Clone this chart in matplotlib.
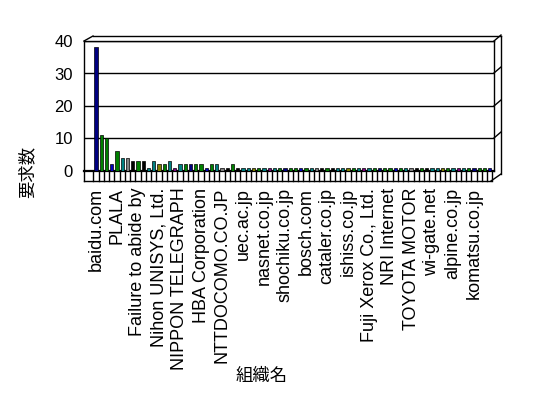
import matplotlib.pyplot as plt
from matplotlib.lines import Line2D
from matplotlib.transforms import blended_transform_factory

# data (76 organisations, every 4th labelled)
values = [38, 11, 10, 2, 6, 4, 4, 3, 3, 3, 1, 3, 2, 2, 3, 1,
          2, 2, 2, 2, 2, 1, 2, 2, 1, 1, 2] + [1] * 49
labels = ['baidu.com', 'PLALA', 'Failure to abide by', 'Nihon UNISYS, Ltd.',
          'NIPPON TELEGRAPH', 'HBA Corporation', 'NTTDOCOMO.CO.JP',
          'uec.ac.jp', 'nasnet.co.jp', 'shochiku.co.jp', 'bosch.com',
          'cataler.co.jp', 'ishiss.co.jp', 'Fuji Xerox Co., Ltd.',
          'NRI Internet', 'TOYOTA MOTOR', 'wi-gate.net', 'alpine.co.jp',
          'komatsu.co.jp']
yticks = [0, 10, 20, 30, 40]

palette = ['#000080', '#008000', '#008000', '#0000c0', '#008000', '#008080',
           '#808080', '#000000', '#008000', '#000000', '#008080', '#008080',
           '#808000', '#008000', '#008080', '#800080', '#008080', '#008000']

W, H = 548, 398
fig = plt.figure(figsize=(W / 100, H / 100), dpi=100)
fig.patch.set_facecolor('white')


def fx(px):
    return px / W


def fy(py):
    return 1 - py / H


ax = fig.add_axes([fx(84), fy(171), fx(494) - fx(84), fy(41) - fy(171)])
n = len(values)
step = 5.25
left = -(96 - 84) / step
ax.set_xlim(left, left + 410 / step)
ax.set_ylim(0, 40)

colors = [palette[i % len(palette)] for i in range(n)]
ax.bar(range(n), values, width=0.6, color=colors, edgecolor='black',
       linewidth=0.5, zorder=3)

ax.set_yticks(yticks)
ax.set_yticklabels([str(v) for v in yticks], fontsize=12, family='Liberation Sans')
ax.yaxis.grid(True, color='black', linewidth=1)
ax.tick_params(axis='y', length=0, pad=8)

ax.set_xticks(range(0, n, 4))
ax.set_xticklabels(labels, rotation=90, fontsize=13, family='Liberation Sans',
                   va='top', ha='center')
ax.tick_params(axis='x', length=0, pad=12)

for s in ax.spines.values():
    s.set_color('black')
    s.set_linewidth(1)
ax.spines['bottom'].set_linewidth(1.6)

# 3D box and floor outline
seg = [((84, 171), (84, 181)), ((84, 41), (93, 36)), ((93, 36), (501, 36)),
       ((501, 36), (501, 174)), ((84, 181), (491, 181)), ((491, 181), (501, 174))]
for gy in [41, 73, 106, 138]:
    seg.append(((494, gy), (501, gy - 6)))
for (x0, y0), (x1, y1) in seg:
    fig.add_artist(Line2D([fx(x0), fx(x1)], [fy(y0), fy(y1)], color='black',
                          linewidth=1, transform=fig.transFigure))

tr = blended_transform_factory(ax.transData, fig.transFigure)
for i in range(n + 1):
    ax.add_line(Line2D([i - 0.5, i - 0.5], [fy(172), fy(181)], color='black',
                       linewidth=1, transform=tr, clip_on=False))

fig.text(fx(27), fy(172), '要求数', rotation=90, fontsize=12.5,
         family=['Noto Sans CJK JP', 'DejaVu Sans'], ha='center', va='center')
fig.text(fx(262), fy(376), '組織名', fontsize=12.5,
         family=['Noto Sans CJK JP', 'DejaVu Sans'], ha='center', va='center')

fig.savefig('out.png', dpi=100)
